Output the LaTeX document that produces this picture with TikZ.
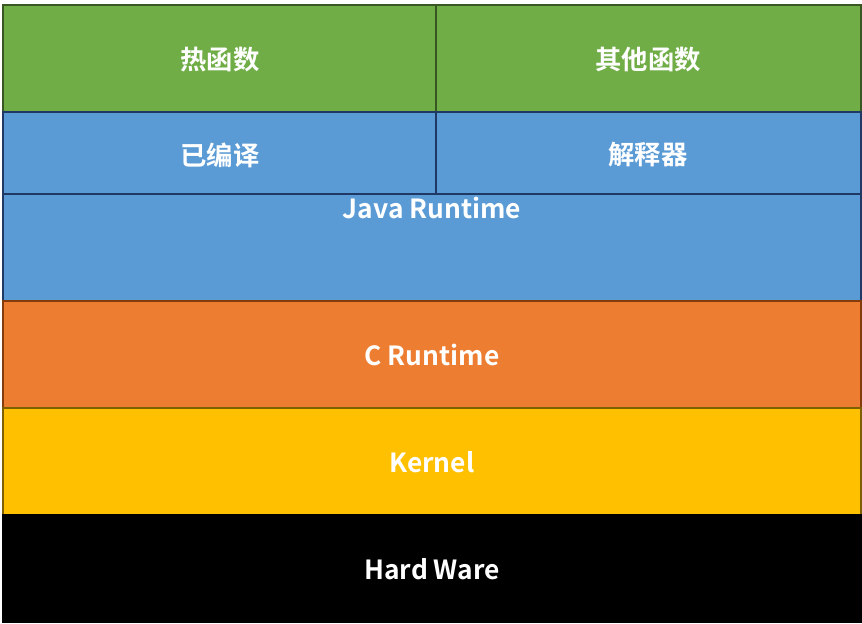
\documentclass[tikz,border=0pt]{standalone}
\usepackage{fontspec}
\setmainfont{Noto Sans CJK SC}[BoldFont={Noto Sans CJK SC Bold}]
\definecolor{hotgreen}{RGB}{112, 173, 71}
\definecolor{hotgreenline}{RGB}{56, 87, 35}
\definecolor{jvblue}{RGB}{91, 155, 213}
\definecolor{jvblueline}{RGB}{31, 56, 100}
\definecolor{crorange}{RGB}{237, 125, 49}
\definecolor{crorangeline}{RGB}{132, 60, 12}
\definecolor{kngold}{RGB}{255, 192, 0}
\definecolor{kngoldline}{RGB}{127, 96, 0}

\begin{document}
\begin{tikzpicture}[x=0.03cm, y=-0.03cm,
    layer/.style={line width=1.2pt},
    label/.style={text = white, font=\bfseries\fontsize{22.5}{26}\selectfont, inner sep=0pt}
    ]

    \useasboundingbox (0, 0) rectangle (862, 624);

    % Top rows
    \draw[layer, fill=hotgreen, draw=hotgreenline] (3, 5) rectangle (436, 112);
    \draw[layer, fill=hotgreen, draw=hotgreenline] (436, 5) rectangle (861, 112);
    \draw[layer, fill=jvblue, draw=jvblueline] (3, 112) rectangle (436, 194);
    \draw[layer, fill=jvblue, draw=jvblueline] (436, 112) rectangle (861, 194);
    \draw[layer, fill=jvblue, draw=jvblueline] (3, 194) rectangle (861, 301);

    \node[label] (hot) at (220, 60) {热函数};
    \node[label] (other) at (648, 60) {其他函数};
    \node[label] (compiled) at (220, 155) {已编译};
    \node[label] (interp) at (648, 155) {解释器};
    \node[label] (java) at (432, 208) {Java Runtime};

    % Lower layers
    \foreach [count = \i] \fillc/\linec/\txt in {crorange/crorangeline/C Runtime, kngold/kngoldline/Kernel, black/black/Hard Ware} {
        \pgfmathsetmacro{\ytop}{301 + (\i-1)*107}
        \draw[layer, fill=\fillc, draw=\linec] (3, \ytop) rectangle (861, \ytop+107);
        \node[label, name=L\i] at (432, \ytop+54) {\txt};
    }
\end{tikzpicture}
\end{document}
